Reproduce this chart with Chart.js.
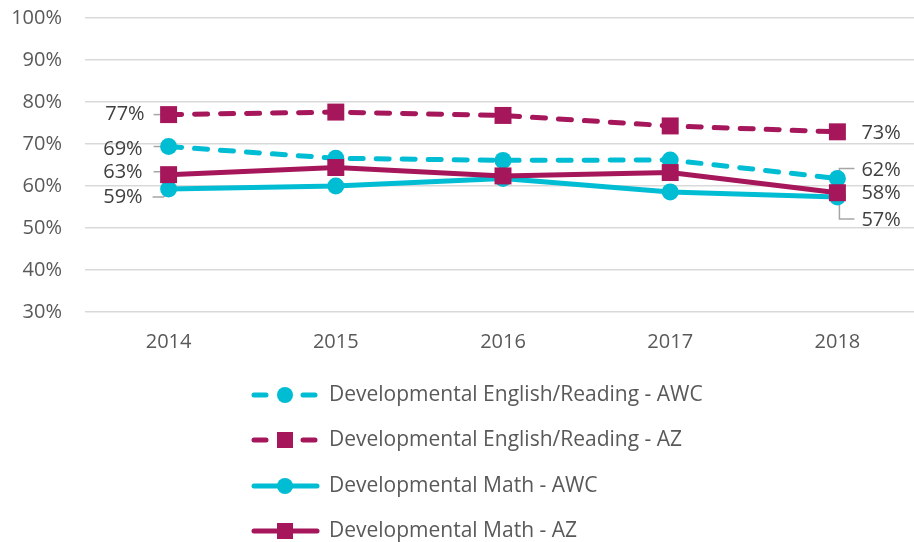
<!DOCTYPE html>
<html>
<head>
<meta charset="utf-8">
<script src="https://cdn.jsdelivr.net/npm/chart.js@4.4.0/dist/chart.umd.min.js"></script>
<style>
  html, body { margin: 0; padding: 0; background: #fff; overflow: hidden; }
  #clip { width: 914px; height: 542px; overflow: hidden; }
  #wrap { width: 933px; height: 542px; position: relative; }
</style>
</head>
<body>
<div id="clip"><div id="wrap"><canvas id="devChart"></canvas></div></div>
<script>
// Chart data
const years = ['2014', '2015', '2016', '2017', '2018'];
const seriesNames = [
  'Developmental English/Reading - AWC',
  'Developmental English/Reading - AZ',
  'Developmental Math - AWC',
  'Developmental Math - AZ'
];
const englishAWC = [69.4, 66.6, 66.1, 66.2, 61.8];
const englishAZ = [77.0, 77.6, 76.8, 74.3, 72.9];
const mathAWC = [59.3, 60.0, 61.8, 58.6, 57.4];
const mathAZ = [62.7, 64.4, 62.4, 63.2, 58.4];
const yTicks = [30, 40, 50, 60, 70, 80, 90, 100];

const CYAN = '#00BDD4';
const MAGENTA = '#A6165A';
const FONT = '"Open Sans", "DejaVu Sans", sans-serif';
const DASH = [13, 13];

// label placement for first / last points (dx, dy of text; leader polyline)
const endLabels = [
  { ds: 1, i: 0, dx: -24, dy: 0, align: 'right', leader: [[-15, 0], [0, 0]] },
  { ds: 0, i: 0, dx: -26, dy: 3, align: 'right', leader: [[-15, 0], [0, 0]] },
  { ds: 3, i: 0, dx: -26, dy: -2, align: 'right', leader: [[-15, -3], [-4, -3], [0, 0]] },
  { ds: 2, i: 0, dx: -26, dy: 8, align: 'right', leader: [[-16, 8], [-5, 8], [0, 0]] },
  { ds: 1, i: 4, dx: 24, dy: 1, align: 'left', leader: null },
  { ds: 0, i: 4, dx: 24, dy: -8, align: 'left', leader: [[2, 0], [2, -10], [17, -10]] },
  { ds: 3, i: 4, dx: 24, dy: 1, align: 'left', leader: null },
  { ds: 2, i: 4, dx: 24, dy: 23, align: 'left', leader: [[2, 0], [2, 22], [17, 22]] }
];

const leaderPlugin = {
  id: 'leaders',
  beforeDatasetsDraw(chart) {
    const ctx = chart.ctx;
    ctx.save();
    ctx.strokeStyle = '#A6A6A6';
    ctx.lineWidth = 1.5;
    endLabels.forEach(l => {
      if (!l.leader) return;
      const pt = chart.getDatasetMeta(l.ds).data[l.i];
      ctx.beginPath();
      l.leader.forEach((p, k) => {
        if (k === 0) ctx.moveTo(pt.x + p[0], pt.y + p[1]);
        else ctx.lineTo(pt.x + p[0], pt.y + p[1]);
      });
      ctx.stroke();
    });
    ctx.restore();
  },
  afterDatasetsDraw(chart) {
    const ctx = chart.ctx;
    ctx.save();
    ctx.font = '20px ' + FONT;
    ctx.fillStyle = '#404040';
    ctx.textBaseline = 'middle';
    endLabels.forEach(l => {
      const pt = chart.getDatasetMeta(l.ds).data[l.i];
      const v = chart.data.datasets[l.ds].data[l.i];
      ctx.textAlign = l.align;
      ctx.fillText(Math.round(v) + '%', pt.x + l.dx, pt.y + l.dy);
    });
    ctx.restore();
  }
};

// vertical legend under the plot
const legendPlugin = {
  id: 'vLegend',
  afterDraw(chart) {
    const ctx = chart.ctx;
    const rows = [395, 440, 486, 531];
    ctx.save();
    chart.data.datasets.forEach((ds, k) => {
      const y = rows[k];
      ctx.strokeStyle = ds.borderColor;
      ctx.lineWidth = 5;
      ctx.lineCap = 'round';
      ctx.beginPath();
      if (ds.borderDash) {
        ctx.moveTo(254, y); ctx.lineTo(266, y);
        ctx.moveTo(303, y); ctx.lineTo(315, y);
      } else {
        ctx.moveTo(254, y); ctx.lineTo(317, y);
      }
      ctx.stroke();
      ctx.fillStyle = ds.borderColor;
      if (ds.pointStyle === 'rect') {
        ctx.fillRect(277, y - 8, 16, 16);
      } else {
        ctx.beginPath();
        ctx.arc(285, y, 8, 0, Math.PI * 2);
        ctx.fill();
      }
      ctx.font = '21px ' + FONT;
      ctx.fillStyle = '#595959';
      ctx.textAlign = 'left';
      ctx.textBaseline = 'middle';
      ctx.fillText(ds.label, 329, y);
    });
    ctx.restore();
  }
};

function makeSet(label, data, color, dashed, style, order) {
  return {
    label: label,
    data: data,
    borderColor: color,
    backgroundColor: color,
    borderWidth: 5,
    borderDash: dashed ? DASH : undefined,
    borderCapStyle: 'round',
    pointStyle: style,
    pointRadius: style === 'rect' ? 12 : 8.5,
    pointBorderWidth: 0,
    pointBackgroundColor: color,
    tension: 0,
    order: order
  };
}

new Chart(document.getElementById('devChart'), {
  type: 'line',
  data: {
    labels: years,
    datasets: [
      makeSet(seriesNames[0], englishAWC, CYAN, true, 'circle', 3),
      makeSet(seriesNames[1], englishAZ, MAGENTA, true, 'rect', 2),
      makeSet(seriesNames[2], mathAWC, CYAN, false, 'circle', 1),
      makeSet(seriesNames[3], mathAZ, MAGENTA, false, 'rect', 0)
    ]
  },
  options: {
    responsive: true,
    maintainAspectRatio: false,
    animation: false,
    layout: { padding: { top: 18, right: -8, bottom: 0, left: 0 } },
    plugins: {
      legend: { display: false },
      tooltip: { enabled: false }
    },
    scales: {
      x: {
        offset: true,
        grid: { display: false, drawTicks: false },
        border: { display: false },
        ticks: { color: '#595959', font: { family: FONT, size: 20 }, padding: 18 },
        afterFit: s => { s.height = 230; }
      },
      y: {
        min: 30,
        max: 100,
        afterBuildTicks: s => { s.ticks = yTicks.map(v => ({ value: v })); },
        grid: { color: '#D9D9D9', lineWidth: 1.5, drawTicks: false },
        border: { display: false },
        ticks: {
          color: '#595959',
          font: { family: FONT, size: 20 },
          padding: 23,
          callback: v => v + '%'
        },
        afterFit: s => { s.width = 85; s.paddingTop = 0; s.paddingBottom = 0; }
      }
    }
  },
  plugins: [leaderPlugin, legendPlugin]
});
</script>
</body>
</html>
